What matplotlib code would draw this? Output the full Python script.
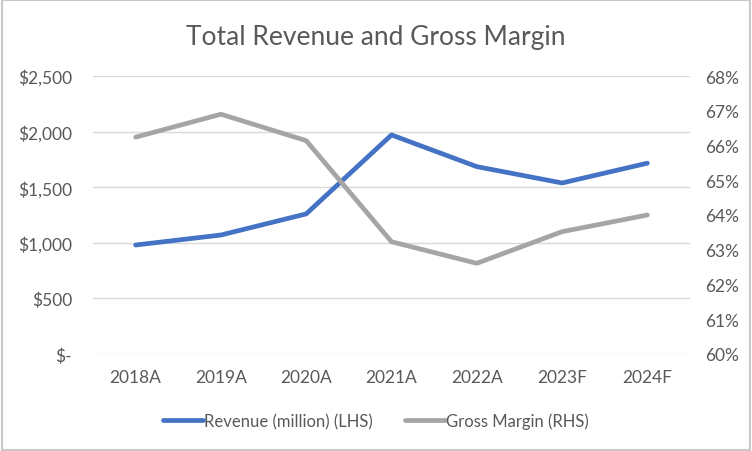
import matplotlib
matplotlib.use('Agg')
import matplotlib.pyplot as plt
from matplotlib.ticker import FuncFormatter
from matplotlib.patches import Rectangle

plt.rcParams['font.family'] = ['Lato', 'DejaVu Sans']

# data
years = ['2018A', '2019A', '2020A', '2021A', '2022A', '2023F', '2024F']
revenue = [980, 1070, 1260, 1970, 1685, 1538, 1716]
gross_margin = [0.6624, 0.6690, 0.6614, 0.6323, 0.6261, 0.6352, 0.6400]

blue = '#4472C4'
gray = '#A5A5A5'
txt = '#595959'

fig = plt.figure(figsize=(7.52, 4.52), dpi=100)
ax = fig.add_axes([93/752, 1 - 355/452, 597/752, 278/452])
ax2 = ax.twinx()

x = range(len(years))
l1, = ax.plot(x, revenue, color=blue, lw=3.4, solid_capstyle='round',
              solid_joinstyle='round', label='Revenue (million) (LHS)', zorder=3)
l2, = ax2.plot(x, gross_margin, color=gray, lw=3.4, solid_capstyle='round',
               solid_joinstyle='round', label='Gross Margin (RHS)', zorder=3)

ax.set_xlim(-0.5, len(years) - 0.5)
ax.set_ylim(0, 2500)
ax.set_yticks(range(0, 2501, 500))
ax.yaxis.set_major_formatter(FuncFormatter(lambda v, p: '$-' if v == 0 else f'${v:,.0f}'))
ax2.set_ylim(0.60, 0.68)
ax2.set_yticks([0.60 + i * 0.01 for i in range(9)])
ax2.yaxis.set_major_formatter(FuncFormatter(lambda v, p: f'{v*100:.0f}%'))

ax.set_xticks(list(x))
ax.set_xticklabels(years)
ax.grid(axis='y', color='#D9D9D9', lw=1)
ax.set_axisbelow(True)

for a in (ax, ax2):
    for s in a.spines.values():
        s.set_visible(False)
    a.tick_params(length=0, labelsize=12.5, colors=txt)
ax.tick_params(axis='y', pad=15)
ax2.tick_params(axis='y', pad=11)
ax.tick_params(axis='x', pad=11)

fig.text(0.5, 1 - 37/452, 'Total Revenue and Gross Margin', ha='center', va='center',
         fontsize=19, color=txt)

fig.legend(handles=[l1, l2], loc='center', bbox_to_anchor=(0.5, 1 - 422/452),
           ncol=2, frameon=False, fontsize=12, labelcolor=txt,
           handlelength=2.4, handletextpad=0.1, columnspacing=1.9)

fig.patches.append(Rectangle((0.002, 0.002), 0.996, 0.996, transform=fig.transFigure,
                             fill=False, edgecolor='#C8C8C8', lw=1.5))

fig.savefig('out.png', dpi=100)
